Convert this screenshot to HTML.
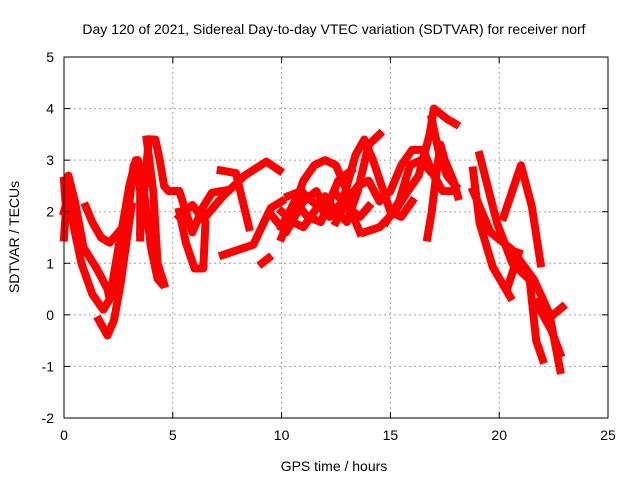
<!DOCTYPE html>
<html><head><meta charset="utf-8"><style>
body{margin:0;background:#fff;}
svg text{font-family:"Liberation Sans",sans-serif;font-size:14px;fill:#000;}
</style></head><body>
<svg id="chart" width="640" height="480" xmlns="http://www.w3.org/2000/svg">
<rect width="640" height="480" fill="#fff"/>
<text x="334" y="34" text-anchor="middle">Day 120 of 2021, Sidereal Day-to-day VTEC variation (SDTVAR) for receiver norf</text>
<g id="grid"></g>
<g id="series"></g>
<g id="axes"></g>
<text x="334" y="471" text-anchor="middle">GPS time / hours</text>
<text transform="translate(19,237) rotate(-90)" text-anchor="middle">SDTVAR / TECUs</text>
</svg>
<script>
const xTicks=[0,5,10,15,20,25];
const yTicks=[-2,-1,0,1,2,3,4,5];
const track1=[[0,1.5],[0.2,2.7],[0.5,2.2],[0.9,1.3],[1.5,0.9],[2.0,0.5],[2.1,0.3],[2.5,0.8],[2.9,1.8],[3.2,2.9],[3.4,3.0],[3.7,2.3],[4.0,1.3],[4.3,0.7],[4.5,0.6]];
const track2=[[0,2.0],[0.2,2.3],[0.5,1.6],[0.8,1.0],[1.3,0.4],[1.8,0.1],[2.1,0.3],[2.5,1.3],[2.8,2.0],[3.0,2.5],[3.3,3.0],[3.5,2.4],[3.5,1.5]];
const track3=[[1.6,-0.1],[2.0,-0.4],[2.3,-0.1],[2.6,0.6],[2.9,1.5],[3.1,2.1]];
const track4=[[1.0,2.1],[1.3,1.8],[1.7,1.5],[2.1,1.4],[2.5,1.6]];
const track5=[[3.5,1.6],[3.9,3.4],[4.2,3.4],[4.4,3.0],[4.6,2.5],[4.8,2.4],[5.2,2.4]];
const track6=[[3.8,3.4],[4.1,2.4],[4.3,1.0],[4.6,0.6]];
const track7=[[5.0,2.4],[5.3,2.4],[5.9,1.6],[6.4,2.1],[6.8,2.37],[7.5,2.42]];
const track8=[[5.3,1.9],[5.9,2.13],[6.5,1.8],[6.4,0.9],[6.0,0.9],[5.6,1.4],[5.3,2.0]];
const track9=[[6.4,1.85],[7.3,2.3],[8.3,2.7],[9.3,2.97],[9.9,2.8]];
const track10=[[7.2,2.8],[7.9,2.75],[8.5,1.7]];
const track11=[[7.3,1.16],[8.7,1.36],[9.5,2.07],[10,2.2]];
const track12=[[9.1,1.0],[9.4,1.1]];
const track13=[[10,1.5],[10.5,2.0],[11,2.6],[11.5,2.9],[12,3.0],[12.5,2.9],[13,2.4],[13.3,1.9],[13.6,1.6]];
const track14=[[10,2.0],[10.5,1.8],[11,1.7],[11.5,2.0],[12,2.3],[12.5,2.0],[13,1.8],[13.5,2.4],[14,3.3],[14.5,3.5]];
const track15=[[9.6,1.9],[10.2,1.6],[11,2.2],[11.6,2.4],[12.2,1.9],[12.8,2.2],[13.4,3.1],[13.8,3.4],[14.2,3.0],[14.6,2.5],[15.0,2.0],[15.5,1.9],[16,2.2]];
const track16=[[12.5,1.8],[13,2.2],[13.5,2.5],[14,2.6],[14.5,2.2],[15,2.4],[15.5,2.9],[16,3.2],[16.5,3.2],[17,2.7],[17.4,2.4],[17.8,2.4]];
const track17=[[13.8,1.6],[14.5,1.7],[15.2,2.0],[15.8,2.4],[16.3,2.7],[16.8,3.5],[17.0,4.0],[17.3,3.9],[17.6,3.8],[18.0,3.7]];
const track18=[[16.9,3.8],[17.2,3.2],[17.6,2.7],[18.0,2.5]];
const track19=[[16.7,1.5],[16.9,2.0],[17.1,2.7],[17.3,3.3],[17.5,3.0],[17.9,2.6],[18.1,2.3]];
const track20=[[19.1,3.1],[19.9,1.78],[20.6,1.0],[21.4,0.68],[21.7,-0.5],[22.0,-0.87]];
const track21=[[20.2,1.9],[21.0,2.9],[21.5,2.1],[21.9,1.0]];
const track22=[[18.8,2.8],[19.1,1.78],[19.7,0.93],[20.5,0.35]];
const track23=[[18.8,2.4],[19.6,1.6],[20.6,1.26],[21.6,0.68],[22.3,0.03],[22.8,-1.07]];
const track24=[[20.4,0.55],[20.9,1.2]];
const track25=[[22.2,-0.1],[22.9,0.15]];
const track26=[[21.7,0.23],[22.4,-0.3],[22.8,-0.75]];
const track27=[[10.0,1.7],[10.6,2.2],[11.2,1.9],[11.8,1.8],[12.4,2.4],[13.0,2.1],[13.6,1.9],[14.0,2.1]];
const track28=[[10.3,2.3],[10.9,2.4],[11.4,2.2],[12.0,2.0],[12.6,2.6],[13.2,2.8]];
const track29=[[14.8,1.8],[15.4,2.2],[15.9,2.9],[16.4,3.0],[16.8,2.8]];
const track30=[[0.0,2.6],[0.1,2.0],[0.3,1.9]];
const tracks=[track1,track2,track3,track4,track5,track6,track7,track8,track9,track10,track11,track12,track13,track14,track15,track16,track17,track18,track19,track20,track21,track22,track23,track24,track25,track26,track27,track28,track29,track30];

const X0=64,X1=608,Y0=418,Y1=57;
const xs=v=>X0+(v-0)/25*(X1-X0);
const ys=v=>Y0-(v+2)/7*(Y0-Y1);
const NS="http://www.w3.org/2000/svg";
const grid=document.getElementById('grid'),axes=document.getElementById('axes'),ser=document.getElementById('series');
function mk(tag,attrs,parent){const e=document.createElementNS(NS,tag);for(const k in attrs)e.setAttribute(k,attrs[k]);parent.appendChild(e);return e;}
xTicks.forEach(t=>{
  const x=xs(t);
  if(t>0&&t<25){const g=mk('line',{x1:x,x2:x,y1:Y1,y2:Y0,stroke:'#a0a0a0','stroke-dasharray':'2,3'},grid);
  
  }
  mk('line',{x1:x,x2:x,y1:Y0,y2:Y0-6,stroke:'#000'},axes);
  mk('line',{x1:x,x2:x,y1:Y1,y2:Y1+6,stroke:'#000'},axes);
  const tx=mk('text',{x:x,y:Y0+22,'text-anchor':'middle'},axes);tx.textContent=t;
  
  
});
yTicks.forEach(t=>{
  const y=ys(t);
  if(t>-2&&t<5){const g=mk('line',{x1:X0,x2:X1,y1:y,y2:y,stroke:'#a0a0a0','stroke-dasharray':'2,3'},grid);
  
  }
  mk('line',{x1:X0,x2:X0+6,y1:y,y2:y,stroke:'#000'},axes);
  mk('line',{x1:X1,x2:X1-6,y1:y,y2:y,stroke:'#000'},axes);
  const tx=mk('text',{x:X0-10,y:y+5,'text-anchor':'end'},axes);tx.textContent=t;
  
  
});
const fr=mk('rect',{x:X0,y:Y1,width:X1-X0,height:Y0-Y1,fill:'none',stroke:'#000'},axes);


tracks.forEach((tr,i)=>{
  const p=mk('polyline',{points:tr.map(d=>xs(d[0])+','+ys(d[1])).join(' '),fill:'none',stroke:'#ff0000','stroke-width':8,'stroke-linejoin':'round','stroke-linecap':'square'},ser);
  
  
});
</script>
</body></html>
